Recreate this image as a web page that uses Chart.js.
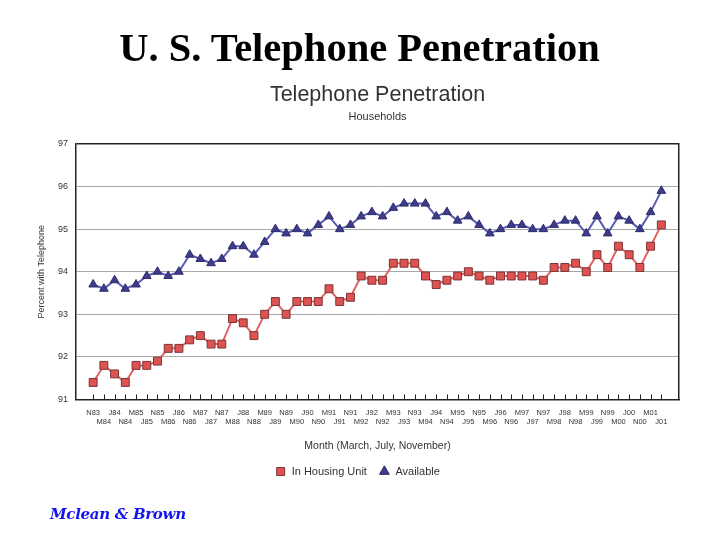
<!DOCTYPE html>
<html>
<head>
<meta charset="utf-8">
<script src="https://cdn.jsdelivr.net/npm/chart.js@4"></script>
<style>
  html, body { margin: 0; padding: 0; background: #fff; }
  #wrap { position: relative; width: 719px; height: 539px; overflow: hidden; }
  #head { position: absolute; left: 0; top: 26px; width: 719px; text-align: center;
          font: bold 40.5px "Liberation Serif", "Times New Roman", serif; line-height: 44px; color: #000; }
  #logo { position: absolute; left: 50px; top: 505px; font: italic bold 15px "DejaVu Serif", serif;
          line-height: 18px; color: #1414f0; letter-spacing: -0.3px; }
  canvas { position: absolute; left: 0; top: 0; }
</style>
</head>
<body>
<div id="wrap">
  <canvas id="chart" width="719" height="539"></canvas>
  <div id="head">U. S. Telephone Penetration</div>
  <div id="logo">Mclean &amp; Brown</div>
</div>
<script>
'use strict';

// Survey months: March, July, November, 1983-2001
const MONTHS = [
  'N83','M84','J84','N84','M85','J85','N85','M86','J86','N86',
  'M87','J87','N87','M88','J88','N88','M89','J89','N89','M90',
  'J90','N90','M91','J91','N91','M92','J92','N92','M93','J93',
  'N93','M94','J94','N94','M95','J95','N95','M96','J96','N96',
  'M97','J97','N97','M98','J98','N98','M99','J99','N99','M00',
  'J00','N00','M01','J01'
];

const IN_HOUSING = [
  91.4, 91.8, 91.6, 91.4, 91.8, 91.8, 91.9, 92.2, 92.2, 92.4,
  92.5, 92.3, 92.3, 92.9, 92.8, 92.5, 93.0, 93.3, 93.0, 93.3,
  93.3, 93.3, 93.6, 93.3, 93.4, 93.9, 93.8, 93.8, 94.2, 94.2,
  94.2, 93.9, 93.7, 93.8, 93.9, 94.0, 93.9, 93.8, 93.9, 93.9,
  93.9, 93.9, 93.8, 94.1, 94.1, 94.2, 94.0, 94.4, 94.1, 94.6,
  94.4, 94.1, 94.6, 95.1
];

const AVAILABLE = [
  93.7, 93.6, 93.8, 93.6, 93.7, 93.9, 94.0, 93.9, 94.0, 94.4,
  94.3, 94.2, 94.3, 94.6, 94.6, 94.4, 94.7, 95.0, 94.9, 95.0,
  94.9, 95.1, 95.3, 95.0, 95.1, 95.3, 95.4, 95.3, 95.5, 95.6,
  95.6, 95.6, 95.3, 95.4, 95.2, 95.3, 95.1, 94.9, 95.0, 95.1,
  95.1, 95.0, 95.0, 95.1, 95.2, 95.2, 94.9, 95.3, 94.9, 95.3,
  95.2, 95.0, 95.4, 95.9
];

const Y_MIN = 91, Y_MAX = 97;
const TEXT = '#333';
const FONT = '"Liberation Sans", Arial, sans-serif';

const toPoints = arr => arr.map((v, i) => ({ x: i, y: v }));

// small tick marks pointing up into the plot, one per survey month
const innerTicks = {
  id: 'innerTicks',
  afterDraw(chart) {
    const x = chart.scales.x, ctx = chart.ctx, bottom = chart.chartArea.bottom;
    ctx.save();
    ctx.strokeStyle = '#222';
    ctx.lineWidth = 1;
    ctx.beginPath();
    MONTHS.forEach((m, i) => {
      const px = Math.round(x.getPixelForValue(i)) + 0.5;
      ctx.moveTo(px, bottom);
      ctx.lineTo(px, bottom - 5);
    });
    ctx.stroke();
    ctx.restore();
  }
};

new Chart(document.getElementById('chart'), {
  type: 'line',
  data: {
    datasets: [
      {
        label: 'In Housing Unit',
        data: toPoints(IN_HOUSING),
        borderColor: '#e06464', borderWidth: 2,
        pointStyle: 'rect', pointRadius: 5.6,
        pointBackgroundColor: '#df5252', pointBorderColor: '#7c3434', pointBorderWidth: 1,
        tension: 0, fill: false
      },
      {
        label: 'Available',
        data: toPoints(AVAILABLE),
        borderColor: '#5a5ab0', borderWidth: 2,
        pointStyle: 'triangle', pointRadius: 5,
        pointBackgroundColor: '#3d3d8c', pointBorderColor: '#2c2c6c', pointBorderWidth: 1,
        tension: 0, fill: false
      }
    ]
  },
  options: {
    responsive: false, animation: false,
    layout: { padding: { left: 36, right: 40, top: 78, bottom: 52 } },
    scales: {
      x: {
        type: 'linear', min: -1.6, max: 54.65,
        afterBuildTicks: s => { s.ticks = MONTHS.map((m, i) => ({ value: i })); },
        grid: { drawOnChartArea: false, drawTicks: false },
        border: { color: '#222', width: 1.5 },
        ticks: {
          autoSkip: false, maxRotation: 0, minRotation: 0, padding: 8,
          color: TEXT, font: { family: FONT, size: 7.5, lineHeight: 1.33 },
          callback: v => (v % 2 === 0 ? [MONTHS[v], ''] : ['', MONTHS[v]])
        },
        title: {
          display: true, text: 'Month (March, July, November)',
          color: TEXT, font: { family: FONT, size: 10.5 }, padding: { top: 4, bottom: 2 }
        }
      },
      y: {
        min: Y_MIN, max: Y_MAX,
        afterFit: s => { s.width = 40; },
        ticks: { stepSize: 1, padding: 8, color: TEXT, font: { family: FONT, size: 9 } },
        grid: {
          drawTicks: false,
          color: c => (c.tick.value === Y_MAX ? '#222' : '#a8a8a8'),
          lineWidth: c => (c.tick.value === Y_MAX ? 1.5 : 1)
        },
        border: { color: '#222', width: 1.5 },
        title: {
          display: true, text: 'Percent with Telephone',
          color: TEXT, font: { family: FONT, size: 9 }, padding: 0
        }
      },
      y2: {
        position: 'right', min: Y_MIN, max: Y_MAX,
        afterFit: s => { s.width = 0; },
        ticks: { display: false },
        grid: { drawOnChartArea: false, drawTicks: false },
        border: { color: '#222', width: 1.5 }
      }
    },
    plugins: {
      title: {
        display: true, fullSize: false, text: 'Telephone Penetration',
        color: TEXT, font: { family: FONT, size: 21.5, weight: 'normal' },
        padding: { top: 4, bottom: 0 }
      },
      subtitle: {
        display: true, fullSize: false, text: 'Households',
        color: TEXT, font: { family: FONT, size: 11 },
        padding: { top: 3, bottom: 20 }
      },
      legend: {
        position: 'bottom',
        labels: {
          usePointStyle: true, boxHeight: 8, padding: 12,
          color: TEXT, font: { family: FONT, size: 11 }
        }
      },
      tooltip: { enabled: false }
    }
  },
  plugins: [innerTicks]
});
</script>
</body>
</html>
